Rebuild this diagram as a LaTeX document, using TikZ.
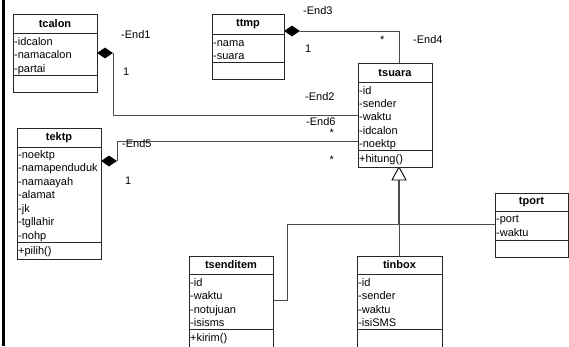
\documentclass[tikz,border=0pt]{standalone}
\usepackage{fontspec}
\setmainfont{Liberation Sans}
\usetikzlibrary{shapes.geometric}
\begin{document}
\begin{tikzpicture}[x=1pt,y=-1pt,
  box/.style={draw=black!85, line width=0.9pt, fill=white, anchor=north west, inner sep=0pt, outer sep=0pt},
  sep/.style={draw=black!85, line width=0.9pt},
  ttl/.style={font=\fontsize{11}{13}\selectfont\bfseries, inner sep=0pt},
  att/.style={font=\fontsize{11}{13}\selectfont, anchor=base west, inner sep=0pt},
  lbl/.style={font=\fontsize{11}{13}\selectfont, anchor=base west, inner sep=0pt},
  conn/.style={draw=black!70, line width=0.9pt},
  dmd/.style={diamond, fill=black, inner sep=0pt, minimum width=16pt, minimum height=11pt}
]
\useasboundingbox (0,0) rectangle (569,346);
\clip (0,0) rectangle (569,346);
\fill[white] (0,0) rectangle (569,346);
\fill[black] (2,0) rectangle (5,346);

% ---------- connectors ----------
\node[dmd] (d1) at (105,53) {};
\node[dmd] (d3) at (292,31) {};
\node[dmd] (d5) at (109,161) {};
\coordinate (e2) at (358,115);
\coordinate (e6) at (358,141);
\coordinate (e4) at (399,63);
\coordinate (gtip) at (399,167);
\coordinate (gbase) at (399,180);
\coordinate (gj) at (399,224);
\coordinate (gl) at (287,224);
\coordinate (gs) at (273,300);
\coordinate (gp) at (495,224);
\coordinate (gi) at (399,256);

\draw[conn] (d1.east) |- (e2);
\draw[conn] (d3.east) -| (e4);
\draw[conn] (d5.east) |- (e6);
\draw[conn, line width=1.6pt] (gbase) -- (gj);
\draw[conn] (gj) -- (gi);
\draw[conn] (gs) -| (gl) -- (gp);
\draw[draw=black, line width=0.9pt, fill=white] (gtip) -- (392,180) -- (406,180) -- cycle;

% ---------- tcalon ----------
\node[box, minimum width=84pt, minimum height=78pt] (tcalon) at (13,14) {};
\draw[sep] (13,33) -- (97,33);
\draw[sep] (13,75) -- (97,75);
\node[ttl] (tcalon-t) at (55,23.5) {tcalon};
\node[att] (tcalon-1) at (14,45.5) {-idcalon};
\node[att] (tcalon-2) at (14,58.8) {-namacalon};
\node[att] (tcalon-3) at (14,72) {-partai};

% ---------- ttmp ----------
\node[box, minimum width=72pt, minimum height=65pt] (ttmp) at (212,14) {};
\draw[sep] (212,34) -- (284,34);
\draw[sep] (212,62) -- (284,62);
\node[ttl] (ttmp-t) at (248,24) {ttmp};
\node[att] (ttmp-1) at (213,46) {-nama};
\node[att] (ttmp-2) at (213,59) {-suara};

% ---------- tsuara ----------
\node[box, minimum width=74pt, minimum height=104pt] (tsuara) at (358,63) {};
\draw[sep] (358,82) -- (432,82);
\draw[sep] (358,150) -- (432,150);
\node[ttl] (tsuara-t) at (395,72.5) {tsuara};
\node[att] (tsuara-1) at (359,94) {-id};
\node[att] (tsuara-2) at (359,107.4) {-sender};
\node[att] (tsuara-3) at (359,120.8) {-waktu};
\node[att] (tsuara-4) at (359,134.2) {-idcalon};
\node[att] (tsuara-5) at (359,147.6) {-noektp};
\node[att] (tsuara-6) at (359,162) {+hitung()};

% ---------- tektp ----------
\node[box, minimum width=84pt, minimum height=131pt] (tektp) at (17,128) {};
\draw[sep] (17,147) -- (101,147);
\draw[sep] (17,242) -- (101,242);
\node[ttl] (tektp-t) at (59,137.5) {tektp};
\node[att] (tektp-1) at (18,158) {-noektp};
\node[att] (tektp-2) at (18,171.5) {-namapenduduk};
\node[att] (tektp-3) at (18,185) {-namaayah};
\node[att] (tektp-4) at (18,198.5) {-alamat};
\node[att] (tektp-5) at (18,212) {-jk};
\node[att] (tektp-6) at (18,225.5) {-tgllahir};
\node[att] (tektp-7) at (18,239) {-nohp};
\node[att] (tektp-8) at (18,254.5) {+pilih()};

% ---------- tsenditem ----------
\node[box, minimum width=84pt, minimum height=100pt] (tsenditem) at (189,256) {};
\draw[sep] (189,274) -- (273,274);
\draw[sep] (189,329.5) -- (273,329.5);
\node[ttl] (tsenditem-t) at (231,265) {tsenditem};
\node[att] (tsenditem-1) at (190,286) {-id};
\node[att] (tsenditem-2) at (190,299.5) {-waktu};
\node[att] (tsenditem-3) at (190,313) {-notujuan};
\node[att] (tsenditem-4) at (190,326.5) {-isisms};
\node[att] (tsenditem-5) at (190,341) {+kirim()};

% ---------- tinbox ----------
\node[box, minimum width=85pt, minimum height=100pt] (tinbox) at (357,256) {};
\draw[sep] (357,274) -- (442,274);
\draw[sep] (357,329.5) -- (442,329.5);
\node[ttl] (tinbox-t) at (399.5,265) {tinbox};
\node[att] (tinbox-1) at (358,286) {-id};
\node[att] (tinbox-2) at (358,299.5) {-sender};
\node[att] (tinbox-3) at (358,313) {-waktu};
\node[att] (tinbox-4) at (358,326.5) {-isiSMS};

% ---------- tport ----------
\node[box, minimum width=73pt, minimum height=64pt] (tport) at (495,193) {};
\draw[sep] (495,211) -- (568,211);
\draw[sep] (495,240) -- (568,240);
\node[ttl] (tport-t) at (531.5,202) {tport};
\node[att] (tport-1) at (496,222.5) {-port};
\node[att] (tport-2) at (496,236) {-waktu};

% ---------- labels ----------
\node[lbl] (l-end1) at (121,38) {-End1};
\node[lbl] (l-m1) at (123,75) {1};
\node[lbl] (l-end3) at (303,14) {-End3};
\node[lbl] (l-m3) at (305,52) {1};
\node[lbl] (l-m4) at (380,43.3) {*};
\node[lbl] (l-end4) at (413,43) {-End4};
\node[lbl] (l-end2) at (305,100) {-End2};
\node[lbl] (l-end6) at (306,125.7) {-End6};
\node[lbl] (l-m6) at (329.5,136.3) {*};
\node[lbl] (l-m2) at (329.5,163.3) {*};
\node[lbl] (l-end5) at (122,147) {-End5};
\node[lbl] (l-m5) at (125,184) {1};
\end{tikzpicture}
\end{document}
